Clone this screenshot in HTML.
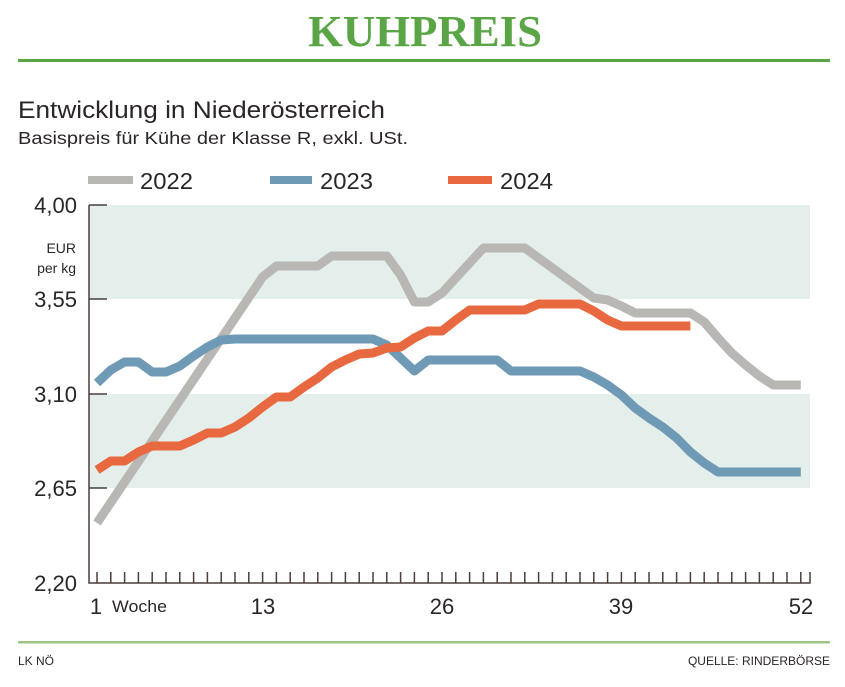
<!DOCTYPE html>
<html><head><meta charset="utf-8"><style>
html,body{margin:0;padding:0;background:#fff;}
svg{display:block;font-family:"Liberation Sans",sans-serif;}
</style></head><body>
<svg width="845" height="687" viewBox="0 0 845 687" xmlns="http://www.w3.org/2000/svg">
<text x="425" y="46" text-anchor="middle" font-family="Liberation Serif,serif" font-weight="bold" font-size="44" fill="#5aa646" textLength="234" lengthAdjust="spacingAndGlyphs">KUHPREIS</text>
<rect x="18" y="59" width="812" height="3" fill="#5aa646"/>
<text x="18" y="118" font-size="24" fill="#2b2626" textLength="367" lengthAdjust="spacingAndGlyphs">Entwicklung in Niederösterreich</text>
<text x="18" y="144" font-size="17.5" fill="#2b2626" textLength="390" lengthAdjust="spacingAndGlyphs">Basispreis für Kühe der Klasse R, exkl. USt.</text>
<rect x="88" y="176" width="45" height="8" fill="#b9b7b4"/>
<text x="140" y="189" font-size="23" fill="#2b2626" textLength="53" lengthAdjust="spacingAndGlyphs">2022</text>
<rect x="270" y="176" width="42" height="8" fill="#6f9ab5"/>
<text x="320" y="189" font-size="23" fill="#2b2626" textLength="53" lengthAdjust="spacingAndGlyphs">2023</text>
<rect x="448" y="176" width="44" height="8" fill="#e8683f"/>
<text x="500" y="189" font-size="23" fill="#2b2626" textLength="53" lengthAdjust="spacingAndGlyphs">2024</text>
<rect x="89" y="205" width="721" height="94" fill="#e4eeeb"/>
<rect x="89" y="394" width="721" height="94" fill="#e4eeeb"/>
<g font-size="22" fill="#2b2626" text-anchor="end">
<text x="77" y="213">4,00</text>
<text x="77" y="307">3,55</text>
<text x="77" y="402">3,10</text>
<text x="77" y="496">2,65</text>
<text x="77" y="591">2,20</text>
</g>
<text x="76" y="253" font-size="14" fill="#2b2626" text-anchor="end">EUR</text>
<text x="76" y="273" font-size="14" fill="#2b2626" text-anchor="end">per kg</text>
<g stroke="#4a3f3a" stroke-width="1.5" fill="none">
<path d="M89 205V583H810V572"/>
<path d="M89 205h18M89 299h18M89 394h18M89 488h18"/>
<path d="M97 572v11M110.8 572v11M124.6 572v11M138.4 572v11M152.2 572v11M166 572v11M179.8 572v11M193.6 572v11M207.4 572v11M221.2 572v11M235 572v11M248.8 572v11M262.6 572v11M276.4 572v11M290.2 572v11M304 572v11M317.8 572v11M331.6 572v11M345.4 572v11M359.2 572v11M373 572v11M386.8 572v11M400.6 572v11M414.4 572v11M428.2 572v11M442 572v11M455.8 572v11M469.6 572v11M483.4 572v11M497.2 572v11M511 572v11M524.8 572v11M538.6 572v11M552.4 572v11M566.2 572v11M580 572v11M593.8 572v11M607.6 572v11M621.4 572v11M635.2 572v11M649 572v11M662.8 572v11M676.6 572v11M690.4 572v11M704.2 572v11M718 572v11M731.8 572v11M745.6 572v11M759.4 572v11M773.2 572v11M787 572v11M800.8 572v11"/>
</g>
<g font-size="22" fill="#2b2626" text-anchor="middle">
<text x="96" y="614">1</text>
<text x="263" y="614">13</text>
<text x="442" y="614">26</text>
<text x="621" y="614">39</text>
<text x="801" y="614">52</text>
</g>
<text x="112" y="612" font-size="17" fill="#2b2626" textLength="55" lengthAdjust="spacingAndGlyphs">Woche</text>
<g fill="none" stroke-width="9" stroke-linejoin="round">
<polyline stroke="#b9b7b4" points="97,523 262.6,277 276.4,266 317.8,266 331.6,256 386.8,256 400.6,275 414.4,302 428.2,302 442,293 455.8,278 469.6,263 483.4,248 524.8,248 538.6,258 552.4,268 566.2,278 580,288 593.8,298 607.6,300 621.4,306 635.2,313 690.4,313 704.2,322 718,338 731.8,353 745.6,365 759.4,376 773.2,385 800.8,385"/>
<polyline stroke="#6f9ab5" points="97,383 110.8,370 124.6,362 138.4,362 152.2,372 166,372 179.8,366 193.6,356 207.4,347 221.2,340 235,339 373,339 386.8,345 400.6,358 414.4,371 428.2,360 497.2,360 511,371 580,371 593.8,377 607.6,385 621.4,395 635.2,408 649,418 662.8,427 676.6,438 690.4,452 704.2,463 718,472 800.8,472"/>
<polyline stroke="#e8683f" points="97,470 110.8,461 124.6,461 138.4,452 152.2,446 179.8,446 193.6,440 207.4,433 221.2,433 235,427 248.8,418 262.6,407 276.4,397 290.2,397 304,387 317.8,378 331.6,367 345.4,360 359.2,354 373,353 386.8,348 400.6,347 414.4,338 428.2,331 442,331 455.8,320 469.6,310 524.8,310 538.6,304 580,304 593.8,311 607.6,320 621.4,326 690.4,326"/>
</g>
<rect x="18" y="641" width="812" height="2.5" fill="#9cc487"/>
<text x="18" y="665" font-size="12" fill="#2b2626">LK NÖ</text>
<text x="830" y="665" font-size="12" fill="#2b2626" text-anchor="end">QUELLE: RINDERBÖRSE</text>
</svg>
</body></html>
